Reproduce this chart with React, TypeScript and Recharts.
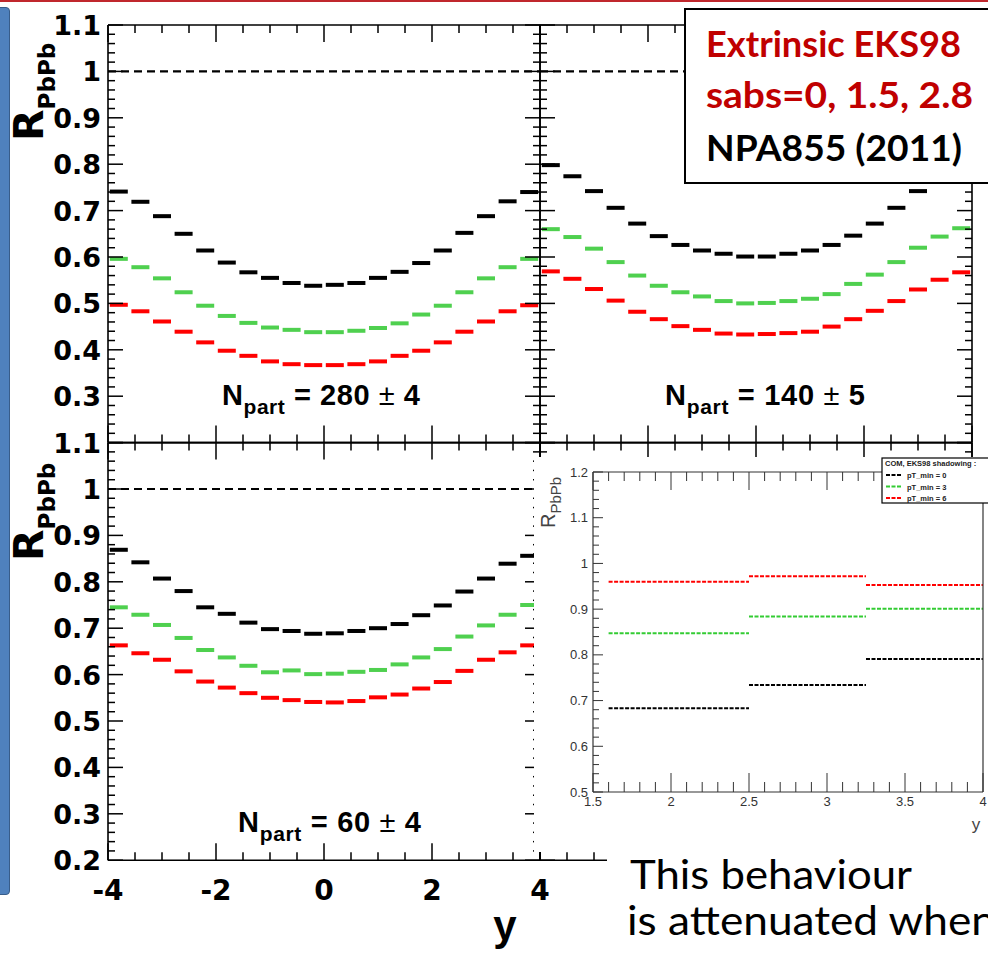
import React from 'react';
import { ScatterChart, Scatter, XAxis, YAxis, ReferenceLine, LineChart, Line } from 'recharts';

const W = 988;
const H = 953;

// ---------- main panels data ----------
const rapidity = [-3.8, -3.4, -3.0, -2.6, -2.2, -1.8, -1.4, -1.0, -0.6, -0.2, 0.2, 0.6, 1.0, 1.4, 1.8, 2.2, 2.6, 3.0, 3.4, 3.8];

const np280Sabs0 = [0.741, 0.719, 0.688, 0.650, 0.614, 0.588, 0.567, 0.555, 0.544, 0.538, 0.540, 0.544, 0.555, 0.568, 0.587, 0.614, 0.652, 0.688, 0.720, 0.740];
const np280Sabs15 = [0.596, 0.578, 0.554, 0.524, 0.495, 0.473, 0.458, 0.448, 0.443, 0.438, 0.438, 0.441, 0.447, 0.457, 0.476, 0.495, 0.524, 0.554, 0.578, 0.596];
const np280Sabs28 = [0.497, 0.483, 0.461, 0.439, 0.416, 0.398, 0.387, 0.375, 0.369, 0.367, 0.367, 0.369, 0.375, 0.387, 0.398, 0.416, 0.439, 0.461, 0.483, 0.496];

const np140Sabs0 = [0.798, 0.774, 0.742, 0.706, 0.672, 0.645, 0.626, 0.614, 0.607, 0.601, 0.601, 0.607, 0.614, 0.626, 0.646, 0.672, 0.706, 0.742, 0.774, 0.798];
const np140Sabs15 = [0.660, 0.643, 0.618, 0.589, 0.560, 0.538, 0.524, 0.515, 0.505, 0.500, 0.501, 0.505, 0.510, 0.520, 0.542, 0.562, 0.589, 0.620, 0.644, 0.662];
const np140Sabs28 = [0.569, 0.553, 0.531, 0.506, 0.482, 0.466, 0.451, 0.443, 0.435, 0.433, 0.434, 0.436, 0.439, 0.450, 0.466, 0.484, 0.505, 0.530, 0.551, 0.567];

const np60Sabs0 = [0.869, 0.842, 0.807, 0.780, 0.745, 0.731, 0.712, 0.698, 0.694, 0.688, 0.689, 0.694, 0.700, 0.709, 0.728, 0.749, 0.779, 0.807, 0.839, 0.856];
const np60Sabs15 = [0.745, 0.729, 0.707, 0.679, 0.653, 0.637, 0.619, 0.605, 0.609, 0.601, 0.602, 0.606, 0.610, 0.622, 0.637, 0.655, 0.682, 0.706, 0.729, 0.750];
const np60Sabs28 = [0.663, 0.646, 0.632, 0.607, 0.585, 0.572, 0.560, 0.550, 0.545, 0.541, 0.540, 0.543, 0.551, 0.557, 0.570, 0.584, 0.608, 0.632, 0.648, 0.663];

const panelYMajor = [0.2, 0.3, 0.4, 0.5, 0.6, 0.7, 0.8, 0.9, 1.0, 1.1];
const panelYLabels = ['0.2', '0.3', '0.4', '0.5', '0.6', '0.7', '0.8', '0.9', '1', '1.1'];
const topPanelYLabels = ['', '0.3', '0.4', '0.5', '0.6', '0.7', '0.8', '0.9', '1', '1.1'];
const panelXMajor = [-4, -2, 0, 2, 4];
const panelXLabels = ['-4', '-2', '0', '2', '4'];

// ---------- inset data ----------
const insetBinLow = [1.6, 2.5, 3.25];
const insetBinHigh = [2.5, 3.25, 4.0];
const insetPt0 = [0.683, 0.734, 0.791];
const insetPt3 = [0.847, 0.884, 0.901];
const insetPt6 = [0.960, 0.972, 0.953];
const insetLegendTitle = 'COM, EKS98 shadowing :';
const insetLegendLabels = ['pT_min = 0', 'pT_min = 3', 'pT_min = 6'];
const insetYMajor = [0.5, 0.6, 0.7, 0.8, 0.9, 1.0, 1.1, 1.2];
const insetYLabels = ['0.5', '0.6', '0.7', '0.8', '0.9', '1', '1.1', '1.2'];
const insetXMajor = [1.5, 2, 2.5, 3, 3.5, 4];
const insetXLabels = ['1.5', '2', '2.5', '3', '3.5', '4'];

// ---------- helpers ----------
function range(from: number, to: number, step: number) {
  const n = Math.round((to - from) / step);
  return Array.from({ length: n + 1 }, (_, i) => +(from + i * step).toFixed(4));
}
const near = (a: number, b: number) => Math.abs(a - b) < 1e-6;
const majorIndex = (v: number, majors: number[]) => majors.findIndex((m) => near(m, v));

const BOLD = "'DejaVu Sans', sans-serif";
const ARIAL = "'Liberation Sans', Arial, sans-serif";

type TickCfg = {
  side: 'left' | 'right' | 'top' | 'bottom';
  majors: number[];
  labels?: string[] | null;
  majorLen: number;
  minorLen: number;
  color: string;
  lineWidth: number;
  fontFamily?: string;
  fontSize?: number;
  fontWeight?: any;
  labelOffset?: number;
  baselineShift?: number;
};

const makeTick = (c: TickCfg) => (props: any) => {
  const { x, y, payload } = props;
  const v = payload.value;
  const idx = majorIndex(v, c.majors);
  const major = idx >= 0;
  const len = major ? c.majorLen : c.minorLen;
  let x2 = x;
  let y2 = y;
  if (c.side === 'left') x2 = x + len;
  else if (c.side === 'right') x2 = x - len;
  else if (c.side === 'top') y2 = y + len;
  else y2 = y - len;
  let text: any = null;
  if (major && c.labels && c.labels[idx]) {
    if (c.side === 'left') {
      text = (
        <text x={x - (c.labelOffset || 0)} y={y + (c.baselineShift || 0)} textAnchor="end" fontFamily={c.fontFamily} fontSize={c.fontSize} fontWeight={c.fontWeight} fill={c.color}>
          {c.labels[idx]}
        </text>
      );
    } else if (c.side === 'bottom') {
      text = (
        <text x={x} y={y + (c.labelOffset || 0)} textAnchor="middle" fontFamily={c.fontFamily} fontSize={c.fontSize} fontWeight={c.fontWeight} fill={c.color}>
          {c.labels[idx]}
        </text>
      );
    }
  }
  return (
    <g>
      <line x1={x} y1={y} x2={x2} y2={y2} stroke={c.color} strokeWidth={c.lineWidth} />
      {text}
    </g>
  );
};

const Marker = (p: any) => {
  if (p.cx == null || p.cy == null) return null;
  return <rect x={p.cx - 9} y={p.cy - 2} width={18} height={4} fill={p.fill} />;
};

type Series = { values: number[]; color: string; name: string };

const PW = 432;
const PH = 417.6;
const panelYTicks = range(0.2, 1.1, 0.02);
const panelXTicks = range(-4, 4, 0.5);
const mainAxis = { stroke: '#000', strokeWidth: 1.6 };

function Panel({ left, top, series, yLabels, xLabels, refEnd }: { left: number; top: number; series: Series[]; yLabels: string[] | null; xLabels: string[] | null; refEnd?: boolean }) {
  const margin = { left: left - 1, top: top - 1, right: W - left - PW - 1, bottom: H - top - PH - 1 };
  const tickBase = { majors: panelYMajor, majorLen: 15, minorLen: 7, color: '#000', lineWidth: 1.5 };
  const xBase = { majors: panelXMajor, majorLen: 17, minorLen: 8, color: '#000', lineWidth: 1.5 };
  return (
    <div style={{ position: 'absolute', left: 0, top: 0, pointerEvents: 'none' }}>
      <ScatterChart width={W} height={H} margin={margin}>
        <XAxis xAxisId="b" type="number" dataKey="x" domain={[-4, 4]} ticks={panelXTicks} interval={0} orientation="bottom" height={1} tickSize={0} tickMargin={0} axisLine={mainAxis} tickLine={false} allowDataOverflow
          tick={makeTick({ ...xBase, side: 'bottom', labels: xLabels, fontFamily: BOLD, fontSize: 28, fontWeight: 700, labelOffset: 40 })} />
        <XAxis xAxisId="t" type="number" dataKey="x" domain={[-4, 4]} ticks={panelXTicks} interval={0} orientation="top" height={1} tickSize={0} tickMargin={0} axisLine={mainAxis} tickLine={false} allowDataOverflow
          tick={makeTick({ ...xBase, side: 'top' })} />
        <YAxis yAxisId="l" type="number" dataKey="y" domain={[0.2, 1.1]} ticks={panelYTicks} interval={0} orientation="left" width={1} tickSize={0} tickMargin={0} axisLine={mainAxis} tickLine={false} allowDataOverflow
          tick={makeTick({ ...tickBase, side: 'left', labels: yLabels, fontFamily: BOLD, fontSize: 27, fontWeight: 700, labelOffset: 7, baselineShift: 10 })} />
        <YAxis yAxisId="r" type="number" dataKey="y" domain={[0.2, 1.1]} ticks={panelYTicks} interval={0} orientation="right" width={1} tickSize={0} tickMargin={0} axisLine={mainAxis} tickLine={false} allowDataOverflow
          tick={makeTick({ ...tickBase, side: 'right' })} />
        {refEnd !== false && <ReferenceLine xAxisId="b" yAxisId="l" y={1} stroke="#000" strokeWidth={2.2} strokeDasharray="8 5" />}
        {series.map((s) => (
          <Scatter key={s.name} name={s.name} xAxisId="b" yAxisId="l" data={rapidity.map((r, i) => ({ x: r, y: s.values[i] }))} fill={s.color} shape={Marker} isAnimationActive={false} />
        ))}
      </ScatterChart>
    </div>
  );
}

const BLACK = '#000000';
const GREEN = '#4fd04f';
const RED = '#ff0000';

// ---------- inset ----------
const IW = 454;
const IH = 395;
const insetMargin = { left: 58, top: 14, right: 4, bottom: 59 };
const insetYTicks = range(0.5, 1.2, 0.02);
const insetXTicks = range(1.5, 4, 0.1);
const insetAxis = { stroke: '#333', strokeWidth: 1.2 };

function stepData(values: number[]) {
  const out: { x: number; y: number | null }[] = [];
  values.forEach((v, i) => {
    if (i > 0) out.push({ x: insetBinLow[i], y: null });
    out.push({ x: insetBinLow[i], y: v });
    out.push({ x: insetBinHigh[i], y: v });
  });
  return out;
}

function Inset() {
  const yBase = { majors: insetYMajor, majorLen: 10, minorLen: 6, color: '#333', lineWidth: 1 };
  const xBase = { majors: insetXMajor, majorLen: 19, minorLen: 10, color: '#333', lineWidth: 1 };
  const topBase = { majors: insetXMajor, majorLen: 18, minorLen: 9, color: '#333', lineWidth: 1 };
  const series = [
    { name: insetLegendLabels[0], values: insetPt0, color: '#000' },
    { name: insetLegendLabels[1], values: insetPt3, color: '#33cc33' },
    { name: insetLegendLabels[2], values: insetPt6, color: '#ff0000' },
  ];
  return (
    <div style={{ position: 'absolute', left: 534, top: 457, width: IW, height: IH, background: '#fff' }}>
      <LineChart width={IW} height={IH} margin={insetMargin}>
        <XAxis xAxisId="b" type="number" dataKey="x" domain={[1.5, 4]} ticks={insetXTicks} interval={0} orientation="bottom" height={1} tickSize={0} tickMargin={0} axisLine={insetAxis} tickLine={false} allowDataOverflow
          tick={makeTick({ ...xBase, side: 'bottom', labels: insetXLabels, fontFamily: ARIAL, fontSize: 13, fontWeight: 400, labelOffset: 14 })} />
        <XAxis xAxisId="t" type="number" dataKey="x" domain={[1.5, 4]} ticks={insetXTicks} interval={0} orientation="top" height={1} tickSize={0} tickMargin={0} axisLine={insetAxis} tickLine={false} allowDataOverflow
          tick={makeTick({ ...topBase, side: 'top' })} />
        <YAxis yAxisId="l" type="number" dataKey="y" domain={[0.5, 1.2]} ticks={insetYTicks} interval={0} orientation="left" width={1} tickSize={0} tickMargin={0} axisLine={insetAxis} tickLine={false} allowDataOverflow
          tick={makeTick({ ...yBase, side: 'left', labels: insetYLabels, fontFamily: ARIAL, fontSize: 13, fontWeight: 400, labelOffset: 5, baselineShift: 4.5 })} />
        <YAxis yAxisId="r" type="number" dataKey="y" domain={[0.5, 1.2]} ticks={[0.5, 1.2]} orientation="right" width={1} tickSize={0} tickMargin={0} tick={false} tickLine={false} axisLine={insetAxis} allowDataOverflow />
        {series.map((s) => (
          <Line key={s.name} name={s.name} xAxisId="b" yAxisId="l" data={stepData(s.values)} dataKey="y" type="linear" stroke={s.color} strokeWidth={2} strokeDasharray="4 1.5" dot={false} activeDot={false} connectNulls={false} isAnimationActive={false} />
        ))}
      </LineChart>
    </div>
  );
}

function NLabel({ x, y, num, err, len }: { x: number; y: number; num: string; err: string; len: number }) {
  return (
    <text x={x} y={y} fontFamily={ARIAL} fontWeight={700} fontSize={29} fill="#000" textLength={len}>
      N
      <tspan fontSize={21} dy={9}>part</tspan>
      <tspan dy={-9}>{` = ${num} `}</tspan>
      <tspan fontWeight={400}>±</tspan>
      <tspan>{` ${err}`}</tspan>
    </text>
  );
}

function RLabel({ x, y }: { x: number; y: number }) {
  return (
    <text transform={`translate(${x},${y}) rotate(-90)`} fontFamily={BOLD} fontWeight={700} fontSize={41} fill="#000">
      R<tspan fontSize={23} dy={12}>PbPb</tspan>
    </text>
  );
}

const LATO = "Lato, 'Open Sans', sans-serif";

export default function App() {
  return (
    <div style={{ position: 'absolute', left: 0, top: 0, width: W, height: H, overflow: 'hidden', background: '#fff' }}>
      <div style={{ position: 'absolute', left: 0, top: 0, width: W, height: 2, background: '#c0272d' }} />
      <div style={{ position: 'absolute', left: -12, top: 7, width: 22, height: 888, boxSizing: 'border-box', background: '#4f81bd', border: '1.5px solid #385d8a', borderRadius: 4 }} />

      <Panel left={108} top={25} yLabels={topPanelYLabels} xLabels={null}
        series={[{ name: 'sabs0', values: np280Sabs0, color: BLACK }, { name: 'sabs15', values: np280Sabs15, color: GREEN }, { name: 'sabs28', values: np280Sabs28, color: RED }]} />
      <Panel left={540} top={25} yLabels={null} xLabels={null}
        series={[{ name: 'sabs0', values: np140Sabs0, color: BLACK }, { name: 'sabs15', values: np140Sabs15, color: GREEN }, { name: 'sabs28', values: np140Sabs28, color: RED }]} />
      <Panel left={108} top={25 + PH} yLabels={panelYLabels} xLabels={panelXLabels}
        series={[{ name: 'sabs0', values: np60Sabs0, color: BLACK }, { name: 'sabs15', values: np60Sabs15, color: GREEN }, { name: 'sabs28', values: np60Sabs28, color: RED }]} />
      <Panel left={540} top={25 + PH} yLabels={null} xLabels={null} series={[]} refEnd={false} />

      <Inset />

      <svg width={W} height={H} style={{ position: 'absolute', left: 0, top: 0, pointerEvents: 'none' }}>
        <RLabel x={43} y={141} />
        <RLabel x={43} y={561} />
        <NLabel x={222} y={405} num="280" err="4" len={198} />
        <NLabel x={665} y={405} num="140" err="5" len={200} />
        <NLabel x={238} y={832} num="60" err="4" len={183} />
        <text x={505} y={940} textAnchor="middle" fontFamily={ARIAL} fontWeight={700} fontSize={42} fill="#000">y</text>

        {/* inset labels */}
        <text transform="translate(555,528) rotate(-90)" fontFamily={ARIAL} fontSize={20} fill="#444">
          R<tspan fontSize={15} dy={6}>PbPb</tspan>
        </text>
        <text x={976} y={830} textAnchor="middle" fontFamily={ARIAL} fontSize={17} fill="#444">y</text>

        {/* inset legend */}
        <rect x={882} y={458} width={120} height={45} fill="#fff" stroke="#000" strokeWidth={1.2} />
        <text x={885} y={466} fontFamily={ARIAL} fontWeight={700} fontSize={7.5} fill="#222">{insetLegendTitle}</text>
        {insetLegendLabels.map((l, i) => (
          <g key={l}>
            <line x1={886} x2={902} y1={475 + i * 11.5} y2={475 + i * 11.5} stroke={['#000', '#33cc33', '#ff0000'][i]} strokeWidth={2} strokeDasharray="4 1.5" />
            <text x={907} y={478 + i * 11.5} fontFamily={ARIAL} fontWeight={700} fontSize={7.5} fill="#222">{l}</text>
          </g>
        ))}

        {/* annotation box */}
        <rect x={685} y={9} width={320} height={174} fill="#fff" stroke="#000" strokeWidth={2} />
        <text x={706} y={57} fontFamily={LATO} fontWeight={700} fontSize={36} fill="#c00000" textLength={255} lengthAdjust="spacingAndGlyphs">Extrinsic EKS98</text>
        <text x={706} y={108} fontFamily={LATO} fontWeight={700} fontSize={36} fill="#c00000" textLength={267} lengthAdjust="spacingAndGlyphs">sabs=0, 1.5, 2.8</text>
        <text x={706} y={161} fontFamily={LATO} fontWeight={700} fontSize={36} fill="#000" textLength={256} lengthAdjust="spacingAndGlyphs">NPA855 (2011)</text>

        {/* text below inset */}
        <rect x={607} y={852} width={400} height={110} fill="#fff" />
        <text x={630} y={889} fontFamily={LATO} fontSize={40} fill="#000" textLength={282} lengthAdjust="spacingAndGlyphs">This behaviour</text>
        <text x={627} y={935} fontFamily={LATO} fontSize={40} fill="#000" textLength={369} lengthAdjust="spacingAndGlyphs">is attenuated when</text>
      </svg>
    </div>
  );
}
